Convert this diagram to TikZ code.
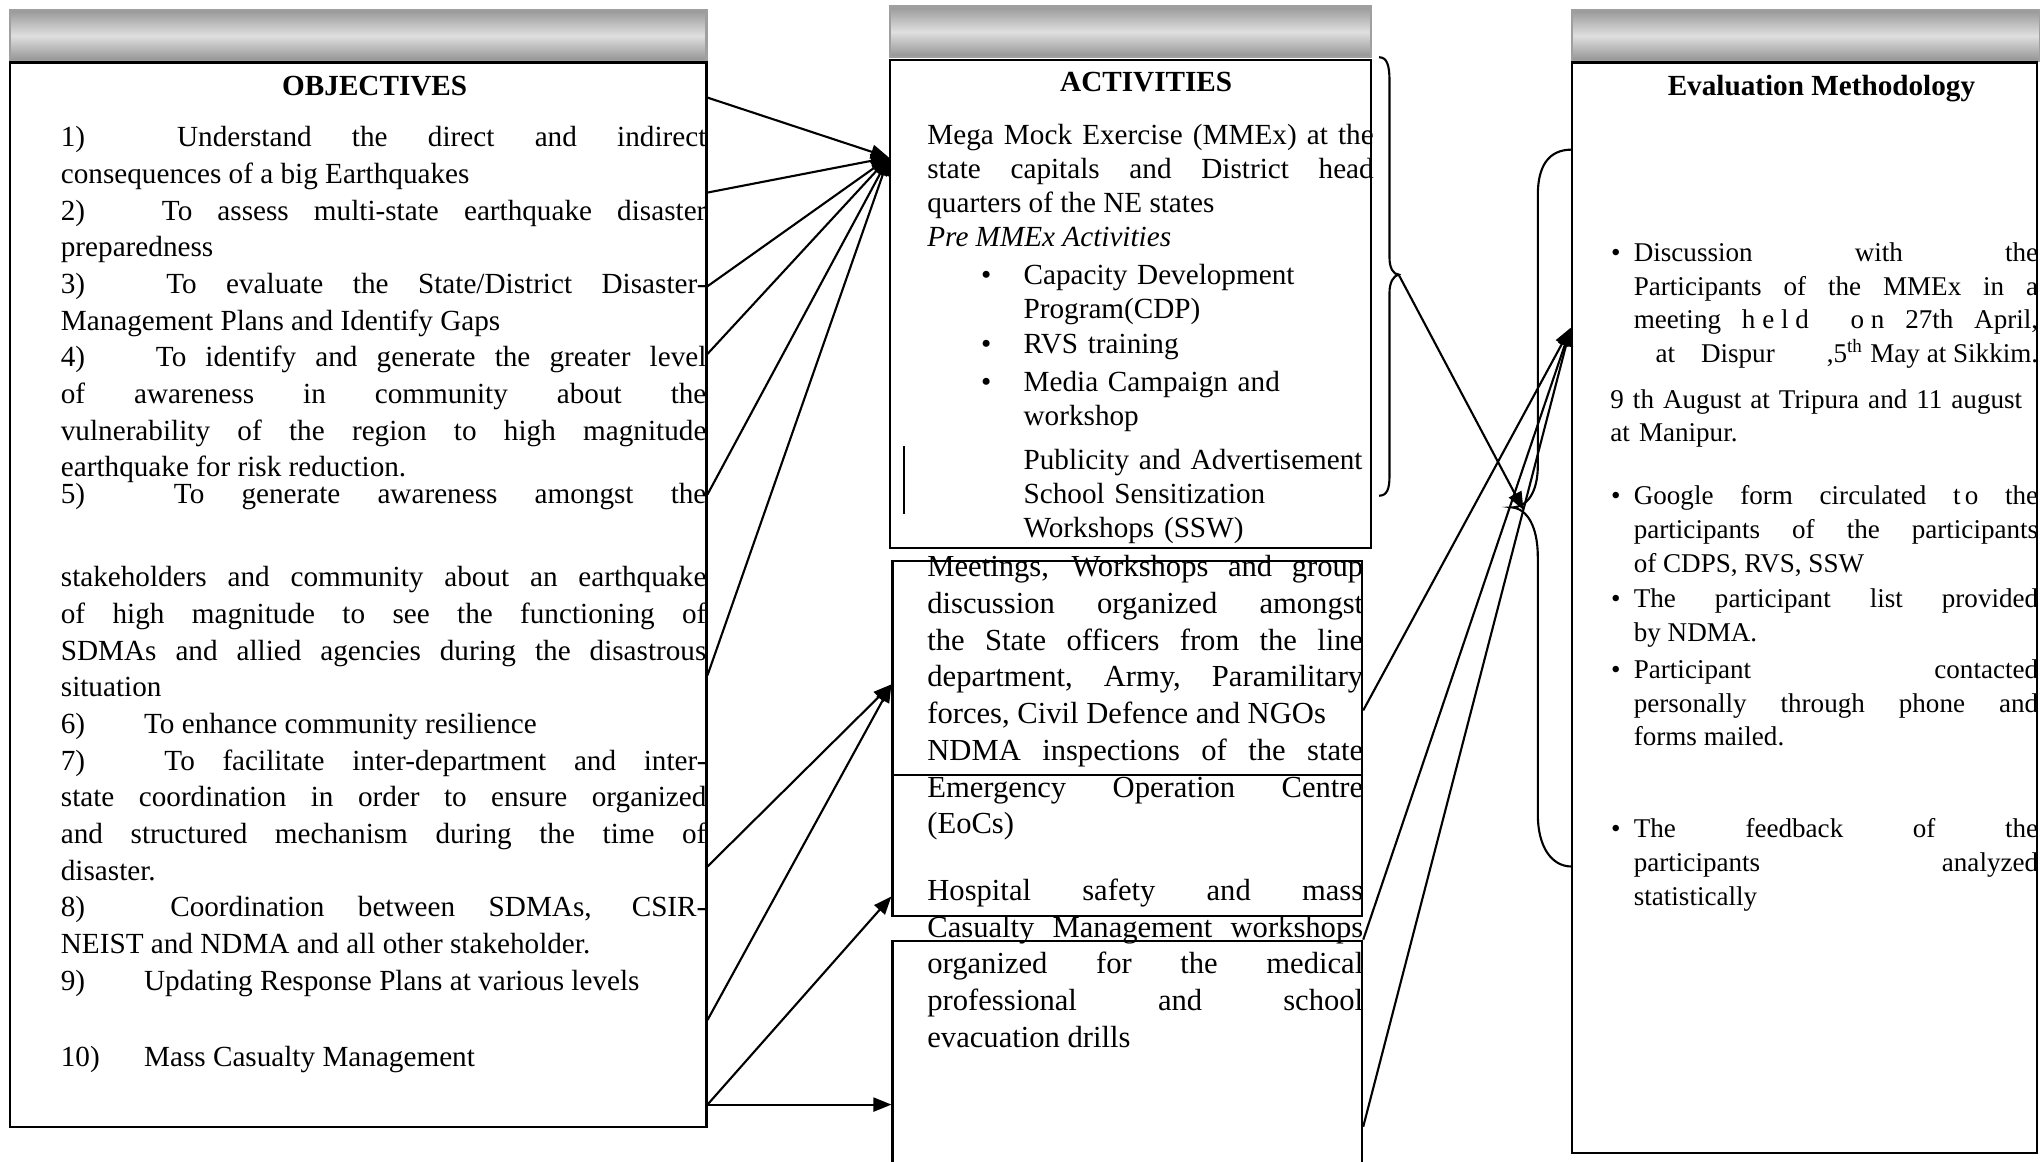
\documentclass[tikz,border=0pt]{standalone}
\usepackage{fontspec}
\setmainfont{Liberation Serif}
\usetikzlibrary{arrows.meta,fit}

\newcommand{\objnum}[1]{\makebox[2.6em][l]{#1}}

\begin{document}
\begin{tikzpicture}[x=0.013cm, y=-0.013cm, line width=0.6pt,
	frame/.style={draw, inner sep=0pt},
	hdr/.style={draw=gray!75, inner sep=0pt, top color=gray!80, bottom color=gray!85, middle color=gray!25},
	title/.style={anchor=base, font=\bfseries\fontsize{8.3}{10}\selectfont},
	objtext/.style={anchor=base west, inner sep=0pt, text width=6.45cm, align=justify,
		font={\fontsize{8.3}{10.43}\selectfont\tolerance=10000 \hbadness=10000 \hyphenpenalty=10000}},
	acttext/.style={anchor=base west, inner sep=0pt, text width=4.46cm, align=justify,
		font={\fontsize{8.3}{9.65}\selectfont\tolerance=10000 \hbadness=10000 \hyphenpenalty=10000}},
	itemtext/.style={anchor=base west, inner sep=0pt, text width=3.5cm, align=left,
		font=\fontsize{8.3}{9.65}\selectfont},
	meettext/.style={anchor=base west, inner sep=0pt, text width=4.355cm, align=justify,
		font={\fontsize{8.7}{10.43}\selectfont\tolerance=10000 \hbadness=10000 \hyphenpenalty=10000}},
	evaltext/.style={anchor=base west, inner sep=0pt, text width=4.04cm, align=justify,
		font={\fontsize{7.7}{9.58}\selectfont\tolerance=10000 \hbadness=10000 \hyphenpenalty=10000}},
	bulletmark/.style={anchor=base, inner sep=0pt},
	arr/.style={-{Triangle[length=1.8mm, width=1.4mm]}}]

	\useasboundingbox (0,0) rectangle (1568,893);

	% objectives
	\node (objhead) [hdr, fit={(8,8) (543,47)}] {};
	\node (objbox) [frame, fit={(8,48) (543,866)}] {};
	\node (objtitle) at (288,73.6) [title] {OBJECTIVES};

	\node (obj1) at (46,112.7) [objtext] {\objnum{1)} Understand the direct and indirect\linebreak consequences of a big Earthquakes\par
		\objnum{2)} To assess multi-state earthquake disaster\linebreak preparedness\par
		\objnum{3)} To evaluate the State/District Disaster-\linebreak Management Plans and Identify Gaps\par
		\objnum{4)} To identify and generate the greater level\linebreak of awareness in community about the\linebreak vulnerability of the region to high magnitude\linebreak earthquake for risk reduction.};
	\node (obj5) at (46,387) [objtext] {\objnum{5)} To generate awareness amongst the\linebreak};
	\node (obj5b) at (46,451) [objtext] {stakeholders and community about an earthquake\linebreak of high magnitude to see the functioning of\linebreak SDMAs and allied agencies during the disastrous\linebreak situation\par
		\objnum{6)} To enhance community resilience\par
		\objnum{7)} To facilitate inter-department and inter-\linebreak state coordination in order to ensure organized\linebreak and structured mechanism during the time of\linebreak disaster.\par
		\objnum{8)} Coordination between SDMAs, CSIR-\linebreak NEIST and NDMA and all other stakeholder.\par
		\objnum{9)} Updating Response Plans at various levels};
	\node (obj10) at (46,820) [objtext] {\objnum{10)} Mass Casualty Management};

	% activities
	\node (acthead) [hdr, fit={(684,5) (1054,44)}] {};
	\node (actbox) [frame, fit={(684,46) (1054,421)}] {};
	\node (acttitle) at (881,70) [title] {ACTIVITIES};

	\node (actmega) at (712,111.3) [acttext] {Mega Mock Exercise (MMEx) at the\linebreak state capitals and District head\linebreak quarters of the NE states\par \textit{Pre MMEx Activities}};
	\foreach \y [count=\i] in {218.4,271.9,300.7}
		\node (actdot\i) at (758,\y) [bulletmark, font=\fontsize{8.3}{9.65}\selectfont] {\textbullet};
	\node (actcdp) at (786,218.4) [itemtext] {Capacity Development\\Program(CDP)};
	\node (actrvs) at (786,271.9) [itemtext] {RVS training};
	\node (actmedia) at (786,300.7) [itemtext] {Media Campaign and\\workshop};
	\node (actpub) at (786,361.1) [itemtext] {Publicity and Advertisement\\School Sensitization\\Workshops (SSW)};
	\draw (695,343) -- (695,395);

	\node (meetbox) [frame, fit={(686,431) (1047,596)}] {};
	\node (eocbox) [frame, fit={(686,596) (1047,704)}] {};
	\node (hospbox) [frame, fit={(686,723) (1047,905)}] {};
	\node (meetpara) at (712,443.4) [meettext] {Meetings, Workshops and group\linebreak discussion organized amongst\linebreak the State officers from the line\linebreak department, Army, Paramilitary\linebreak forces, Civil Defence and NGOs\par
		NDMA inspections of the state\linebreak Emergency Operation Centre\linebreak (EoCs)};
	\node (hosppara) at (712,692) [meettext] {Hospital safety and mass\linebreak Casualty Management workshops\linebreak organized for the medical\linebreak professional and school\linebreak evacuation drills};

	% braces
	\coordinate (bracetip) at (1075,211);
	\draw (1060,44) .. controls (1066,44) and (1068,50) .. (1068,62)
		-- (1068,198) .. controls (1068,206) and (1071,211) .. (bracetip)
		.. controls (1071,212) and (1068,217) .. (1068,225)
		-- (1068,366) .. controls (1068,376) and (1066,381) .. (1060,381);
	\coordinate (bracein) at (1171,392);
	\draw (1208,115) .. controls (1190,115) and (1182,128) .. (1182,150)
		-- (1182,358) .. controls (1182,378) and (1174,390) .. (1162,390)
		.. controls (1174,391) and (1182,405) .. (1182,428)
		-- (1182,626) .. controls (1182,650) and (1192,666) .. (1208,666);

	% evaluation
	\node (evalhead) [hdr, fit={(1208,8) (1568,47)}] {};
	\node (evalbox) [frame, fit={(1208,48) (1566,886)}] {};
	\node (evaltitle) at (1400,73.4) [title] {Evaluation Methodology};

	\foreach \y [count=\i] in {201,388,467,521.5,644}
		\node (evaldot\i) at (1242,\y) [bulletmark, font=\fontsize{7.7}{9}\selectfont] {\textbullet};
	\node (evaldisc) at (1255,201) [evaltext] {Discussion with the\linebreak Participants of the MMEx in a\linebreak meeting h\kern0.25em e\kern0.25em l\kern0.25em d\ \ o\kern0.25em n 27th April,\linebreak \hspace*{0.8em}at Dispur\ \ ,5\textsuperscript{th}\hspace{0.25em}May\hspace{0.25em}at\hspace{0.25em}Sikkim.\linebreak};
	\node (evalaug) at (1237,313.8) [evaltext, text width=4.6cm, align=left] {9 th August at Tripura and 11 august\\at Manipur.};
	\node (evalform) at (1255,388) [evaltext] {Google form circulated t\kern0.15em o the\linebreak participants of the participants\linebreak of CDPS, RVS, SSW};
	\node (evallist) at (1255,467) [evaltext] {The participant list provided\linebreak by NDMA.};
	\node (evalcall) at (1255,521.5) [evaltext] {Participant contacted\linebreak personally through phone and\linebreak forms mailed.};
	\node (evalfeed) at (1255,644) [evaltext] {The feedback of the\linebreak participants analyzed\linebreak statistically};

	% connectors
	\foreach \y in {75,148,220,272,380,519}
		\draw[arr] (objbox.east |- 0,\y) -- (actbox.west |- 0,121);
	\draw[arr] (objbox.east |- 0,666) -- (meetbox.west |- 0,526);
	\draw[arr] (objbox.east |- 0,784) -- (meetbox.west |- 0,526);
	\draw[arr] (objbox.east |- 0,849) -- (eocbox.west |- 0,689);
	\draw[arr] (objbox.east |- 0,849) -- (hospbox.west |- 0,849);
	\draw[arr] (meetbox.east |- 0,546) -- (evalbox.west |- 0,252);
	\draw[arr] (hospbox.north east) -- (evalbox.west |- 0,252);
	\draw[arr] (hospbox.east |- 0,866) -- (evalbox.west |- 0,252);
	\draw[arr] (bracetip) -- (bracein);
\end{tikzpicture}
\end{document}
